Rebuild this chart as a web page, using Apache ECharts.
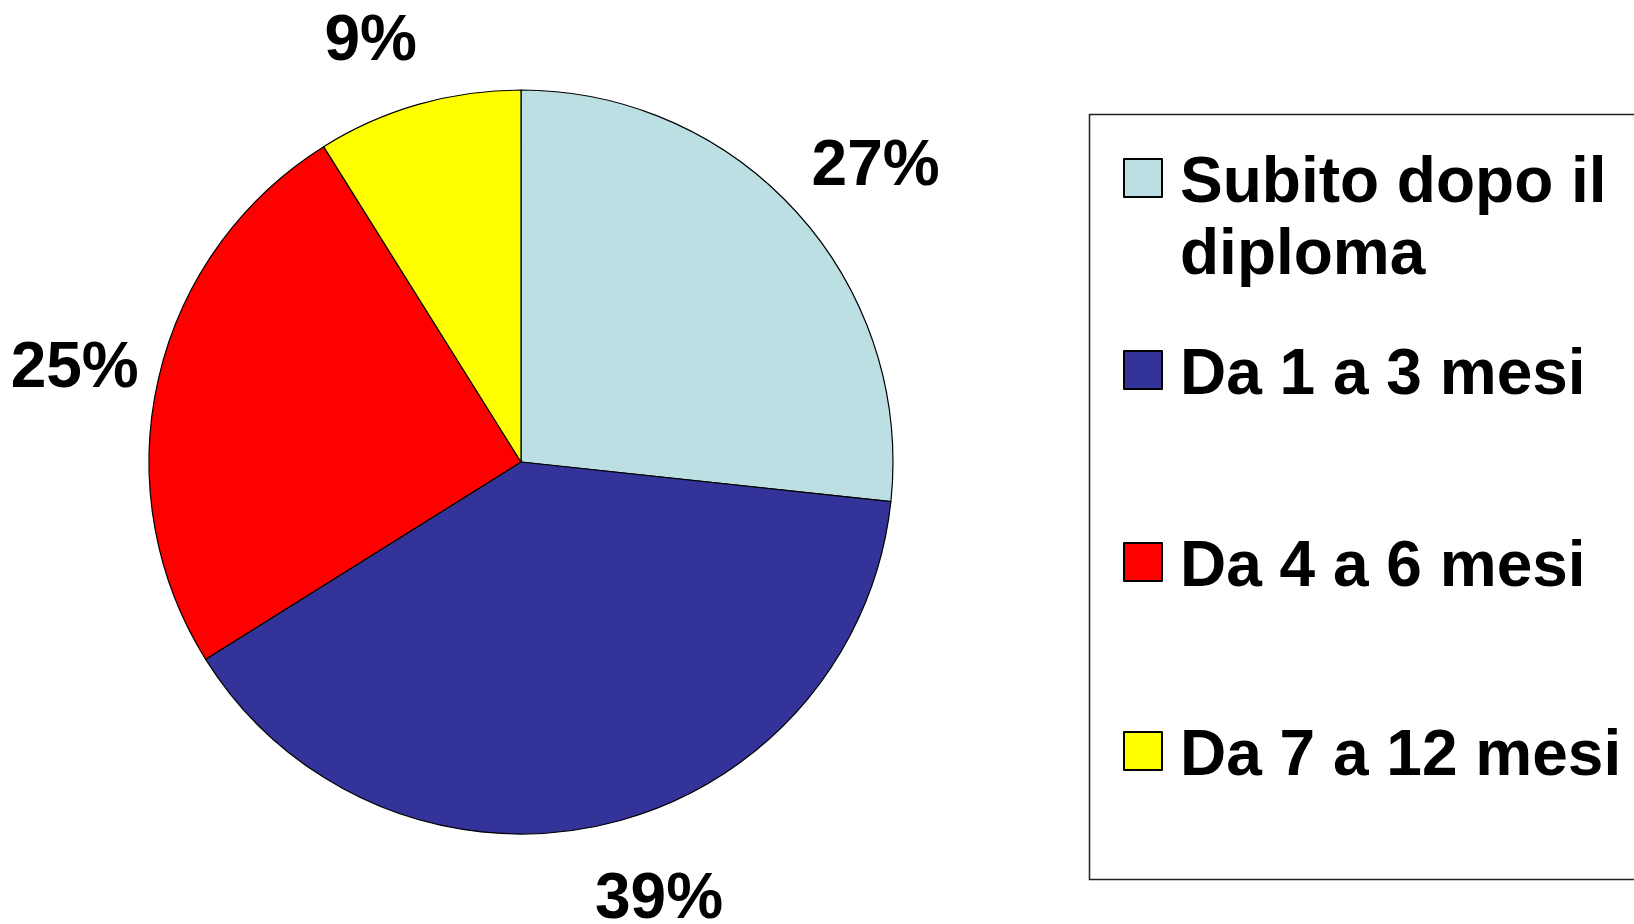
<!DOCTYPE html>
<html><head><meta charset="utf-8">
<script src="https://cdn.jsdelivr.net/npm/echarts@6/dist/echarts.min.js"></script>
<style>html,body{margin:0;padding:0;background:#fff}#c{width:1634px;height:924px}</style>
</head><body><div id="c"></div>
<script>
// ---- data ----
const categories = ['Subito dopo il diploma', 'Da 1 a 3 mesi', 'Da 4 a 6 mesi', 'Da 7 a 12 mesi'];
const legendLines = [['Subito dopo il', 'diploma'], ['Da 1 a 3 mesi'], ['Da 4 a 6 mesi'], ['Da 7 a 12 mesi']];
const values = [26.7, 39.4, 25.0, 8.9];
const colors = ['#BCDFE3', '#333399', '#FF0000', '#FFFF00'];

// ---- layout ----
const FONT = "'Liberation Sans', Arial, sans-serif";
const CX = 521, CY = 462, R = 372;
const FS = 64, LH = 72, SHIFT = 6;
const ICON = 38, IH = ICON + 2 * SHIFT;
const legendCenters = [178, 370, 562, 751];
const labelAngleAdjustDeg = [1.7, -4.7, -0.6, -3.5];

const total = values.reduce((a, b) => a + b, 0);
const cum = []; let acc = 0; values.forEach(v => { cum.push(acc); acc += v; });

const chart = echarts.init(document.getElementById('c'), null, {renderer: 'canvas'});

const legends = categories.map((name, i) => {
  const lines = legendLines[i];
  const shown = lines.length > 1 ? '\n' + lines.join('\n') : lines[0];
  const blockH = (lines.length > 1 ? lines.length + 1 : 1) * LH;
  const topRel = Math.min(0, IH / 2 - blockH / 2);
  return {
    data: [name], selectedMode: false, orient: 'vertical',
    left: 1123, top: legendCenters[i] - ICON / 2 + topRel, padding: 0,
    icon: 'path://M0,0L' + ICON + ',0L' + ICON + ',' + ICON + 'L0,' + ICON + 'ZM0,' + IH,
    itemWidth: ICON, itemHeight: IH,
    textStyle: {fontFamily: FONT, fontWeight: 'bold', fontSize: FS, color: '#000', lineHeight: LH, padding: [0, 0, 0, 13]},
    formatter: () => shown
  };
});

chart.setOption({
  animation: false,
  backgroundColor: '#fff',
  color: colors,
  legend: legends,
  graphic: [{
    type: 'rect', silent: true,
    shape: {x: 1089.5, y: 114.5, width: 600, height: 765},
    style: {fill: 'none', stroke: '#222', lineWidth: 1.5}
  }],
  series: [{
    type: 'pie',
    center: [CX, CY], radius: R,
    startAngle: 90, clockwise: true,
    avoidLabelOverlap: false,
    emphasis: {disabled: true},
    itemStyle: {borderColor: '#000', borderWidth: 1.2},
    label: {
      show: true, position: 'outside', color: '#000',
      fontFamily: FONT, fontWeight: 'bold', fontSize: FS, lineHeight: FS,
      formatter: p => Math.round(p.value) + '%'
    },
    labelLine: {show: false},
    labelLayout: function (p) {
      const i = p.dataIndex;
      const mid = (cum[i] + values[i] / 2) / total * 2 * Math.PI + labelAngleAdjustDeg[i] * Math.PI / 180;
      const sx = Math.sin(mid), sy = -Math.cos(mid);
      const hw = p.labelRect.width / 2 - 15, hh = FS / 2 + 10;
      const d = R + 28 + Math.abs(sx) * hw + Math.abs(sy) * hh;
      return {x: CX + sx * d, y: CY + sy * d + 5, align: 'center', verticalAlign: 'middle'};
    },
    data: categories.map((name, i) => ({name: name, value: values[i]}))
  }]
});
</script>
</body></html>
